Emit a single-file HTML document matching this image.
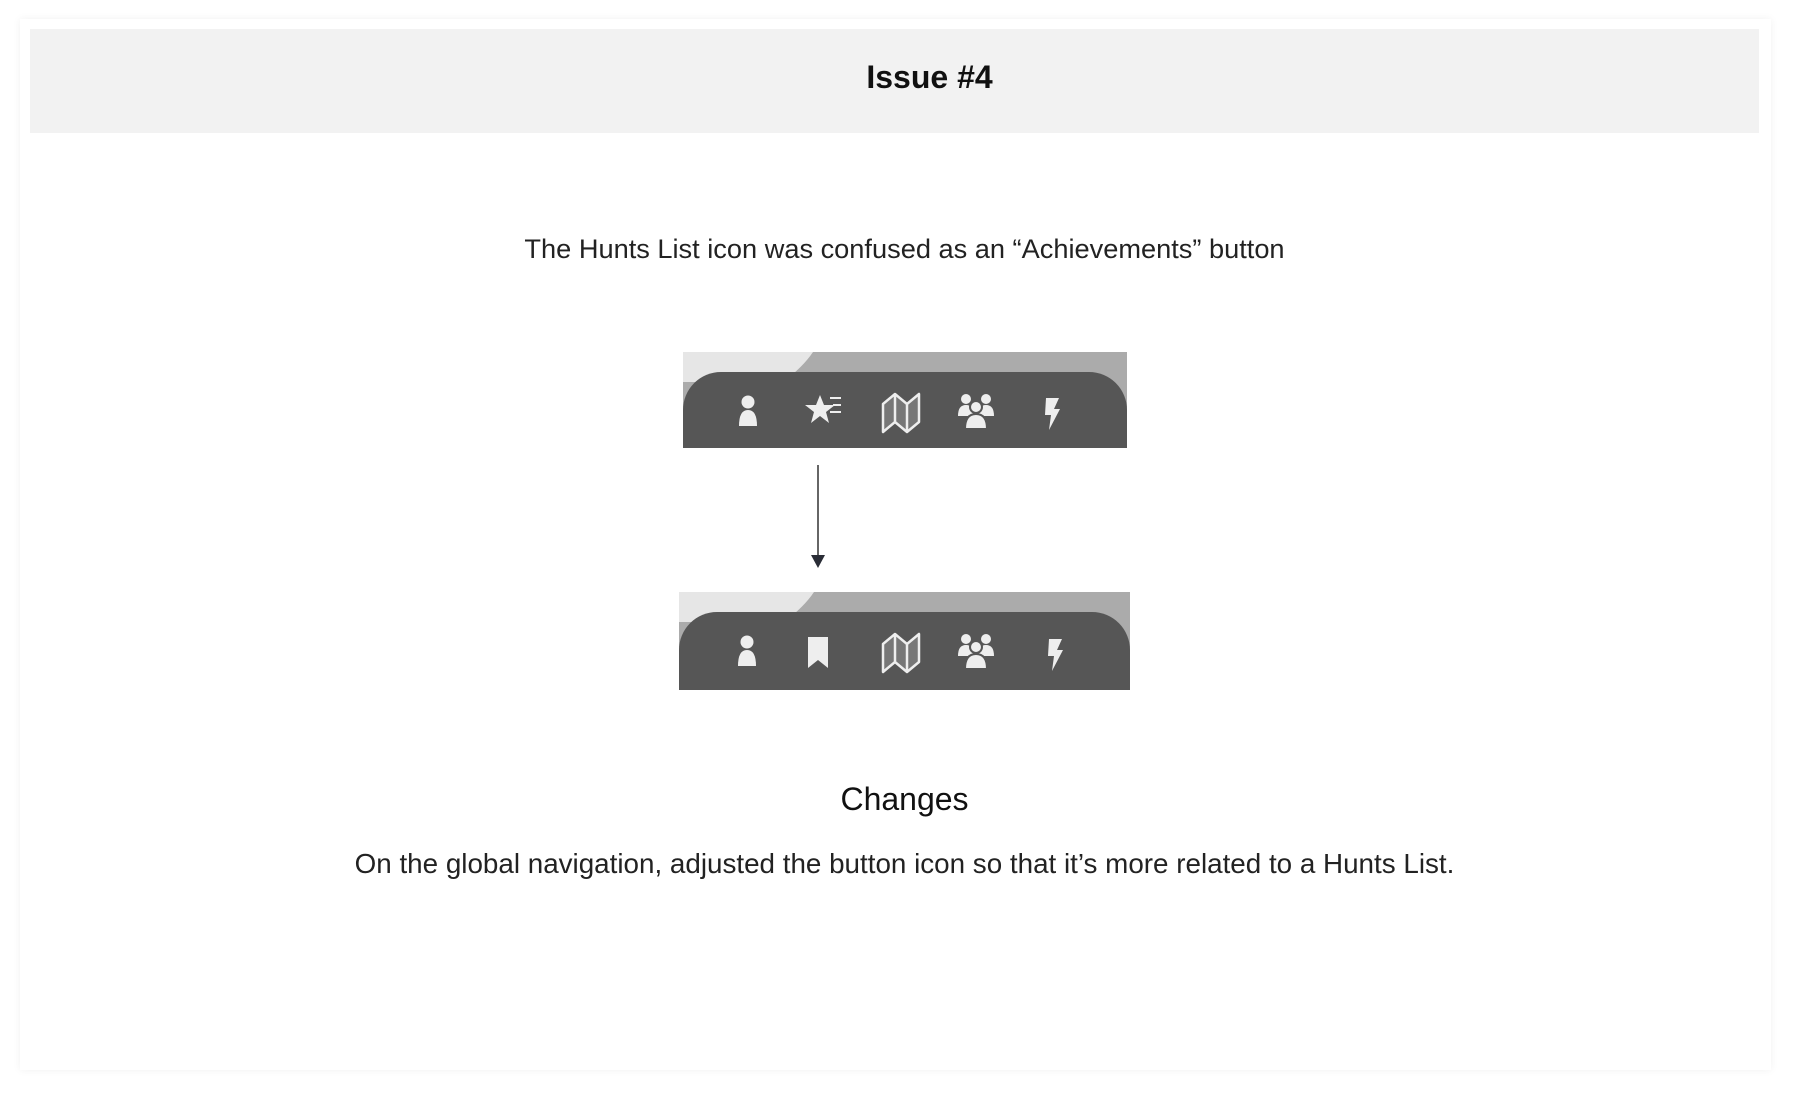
<!DOCTYPE html>
<html><head><meta charset="utf-8"><style>
body{margin:0;width:1795px;height:1095px;background:#fff;position:relative;font-family:"Liberation Sans",sans-serif;overflow:hidden}
.card{position:absolute;left:20px;top:19px;width:1751px;height:1051px;background:#fff;box-shadow:0 0 8px rgba(0,0,0,0.06)}
.hdr{position:absolute;left:30px;top:29px;width:1729px;height:104px;background:#f2f2f2}
.hdr span{position:absolute;left:0;width:1795px;margin-left:2px;text-align:center;top:28px;font-weight:bold;font-size:32px;color:#111;line-height:40px}
.t{position:absolute;left:7px;width:1795px;text-align:center;color:#222}
.bar{position:absolute;background:#ababab;overflow:hidden}
.dark{position:absolute;left:0;right:0;bottom:0;background:#565656;border-radius:38px 38px 0 0}
.ic{position:absolute}
</style></head><body>
<div class="card"></div>
<div class="hdr"><span>Issue #4</span></div>
<div class="t" style="top:233px;font-size:27.2px">The Hunts List icon was confused as an “Achievements” button</div>

<svg width="0" height="0" style="position:absolute">
<defs>
<g id="person"><circle cx="0" cy="-10" r="6.5" fill="#eee"/><path d="M-9 14 Q-9 -2 0 -2 Q9 -2 9 14 Z" fill="#eee"/></g>
<g id="map"><path d="M-18 -8 L-6 -18 L6 -8 L18 -18 L18 10 L6 20 L-6 10 L-18 20 Z M-6 -18 L-6 10 M6 -8 L6 20" fill="#777" stroke="#eee" stroke-width="2.5" stroke-linejoin="round"/></g>
<g id="group"><circle cx="-10" cy="-11" r="5" fill="#eee"/><circle cx="10" cy="-11" r="5" fill="#eee"/><path d="M-18 6 Q-18 -5 -10 -5 Q-2 -5 -2 6Z M2 6 Q2 -5 10 -5 Q18 -5 18 6Z" fill="#eee"/><circle cx="0" cy="-3" r="6" fill="#eee" stroke="#565656" stroke-width="2"/><path d="M-11 19 Q-11 4 0 4 Q11 4 11 19Z" fill="#eee" stroke="#565656" stroke-width="2"/></g>
<g id="bolt"><path d="M-6 -14 L7 -14 L2 -3 L8 -3 L-3 18 L-1 3 L-7 3 Z" fill="#eee"/></g>
</defs></svg>

<div class="bar" style="left:683px;top:352px;width:444px;height:96px">
 <svg width="140" height="30" style="position:absolute;left:0;top:0"><rect width="140" height="30" fill="#e6e6e6"/><path d="M130 0 Q120 15 100 30 L140 30 L140 0Z" fill="#ababab"/></svg>
 <div class="dark" style="top:20px"></div>
 <svg class="ic" width="444" height="96" style="left:0;top:0">
  <use href="#person" x="65" y="60"/>
  <path d="M137 43 L141 53 L152 53 L143 60 L146 71 L137 64 L128 71 L131 60 L122 53 L133 53 Z" fill="#eee"/>
  <path d="M147 46 H158 M150 53 H158 M147 60 H158" stroke="#eee" stroke-width="2"/>
  <use href="#map" x="218" y="60"/>
  <use href="#group" x="293" y="58"/>
  <use href="#bolt" x="369" y="60"/>
 </svg>
</div>

<svg style="position:absolute;left:808px;top:462px" width="20" height="110"><line x1="10" y1="3" x2="10" y2="95" stroke="#333" stroke-width="1.5"/><path d="M3 93 L17 93 L10 106 Z" fill="#2a2d36"/></svg>

<div class="bar" style="left:679px;top:592px;width:451px;height:98px">
 <svg width="140" height="30" style="position:absolute;left:0;top:0"><rect width="140" height="30" fill="#e6e6e6"/><path d="M135 0 Q125 15 105 30 L140 30 L140 0Z" fill="#ababab"/></svg>
 <div class="dark" style="top:20px"></div>
 <svg class="ic" width="451" height="98" style="left:0;top:0">
  <use href="#person" x="68" y="60"/>
  <path d="M129 45 H149 V76 L139 68 L129 76 Z" fill="#eee"/>
  <use href="#map" x="222" y="60"/>
  <use href="#group" x="297" y="58"/>
  <use href="#bolt" x="376" y="61"/>
 </svg>
</div>

<div class="t" style="top:781px;font-size:32px;color:#111">Changes</div>
<div class="t" style="top:848px;font-size:27.8px">On the global navigation, adjusted the button icon so that it’s more related to a Hunts List.</div>
</body></html>
